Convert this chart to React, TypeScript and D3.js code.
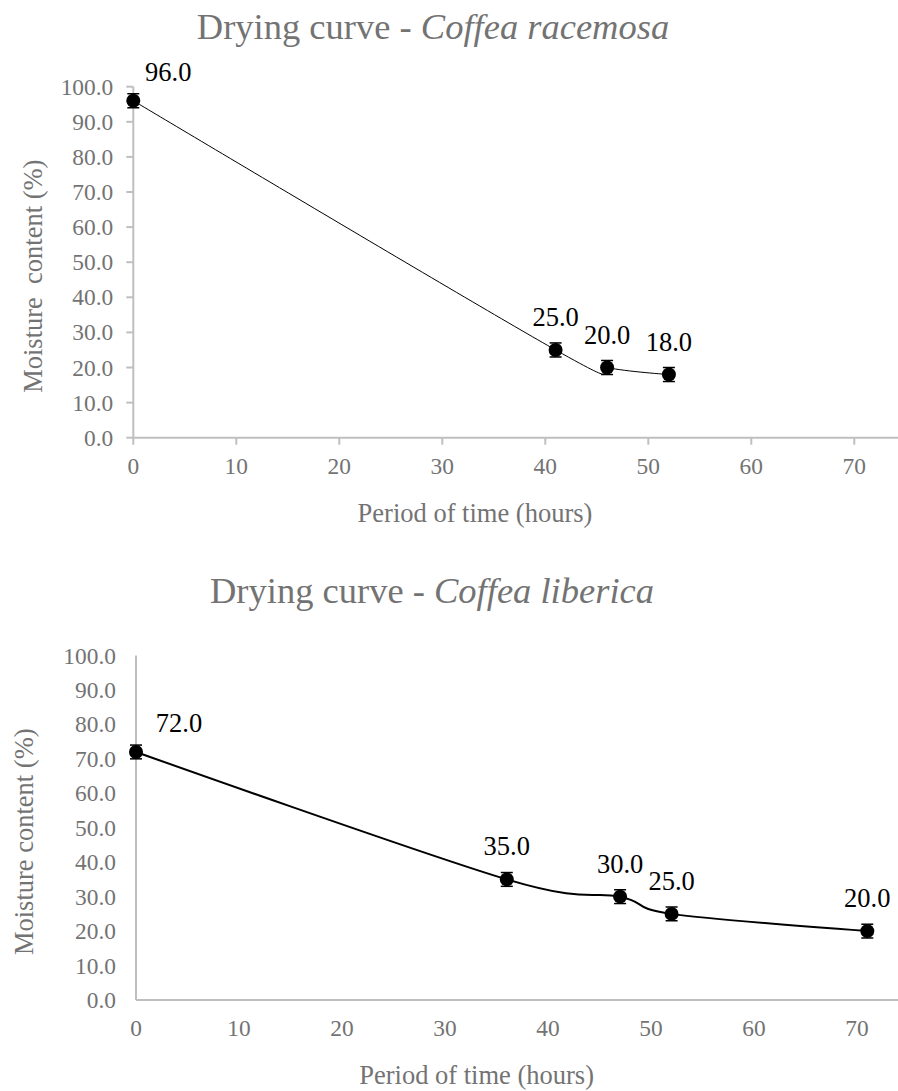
import * as d3 from "d3";

// Coffea racemosa
const racemosaHours = [0, 41, 46, 52];
const racemosaMoisture = [96, 25, 20, 18];
const racemosaError = [2, 2, 2, 2];

// Coffea liberica
const libericaHours = [0, 36, 47, 52, 71];
const libericaMoisture = [72, 35, 30, 25, 20];
const libericaError = [2, 2, 2, 2, 2];

const xTicks = [0, 10, 20, 30, 40, 50, 60, 70];
const yTicks = [0, 10, 20, 30, 40, 50, 60, 70, 80, 90, 100];

const FONT = "Liberation Serif, Times New Roman, Tinos, DejaVu Serif, serif";
const GREY_TEXT = "#737373";
const AXIS = "#bfbfbf";

type ChartProps = {
    species: string;
    hours: number[];
    moisture: number[];
    errors: number[];
    axisX: number;
    plotTop: number;
    plotBottom: number;
    titleY: number;
    titleX: number;
    yTitle: string;
    yTitleX: number;
    xTitleX: number;
    lineWidth: number;
    tickMarks: boolean;
    firstLabelDx: number;
};

function DryingChart(p: ChartProps) {
    const x = d3.scaleLinear().domain([0, 75]).range([p.axisX, p.axisX + 75 * 10.3]);
    const y = d3.scaleLinear().domain([0, 100]).range([p.plotBottom, p.plotTop]);
    const fmt = d3.format(".1f");

    const pts = p.hours.map((h, i) => ({ h, m: p.moisture[i], e: p.errors[i] }));

    // smoothed line like the spreadsheet one (uniform catmull-rom)
    const line = d3.line<{ h: number; m: number }>()
        .x(d => x(d.h))
        .y(d => y(d.m))
        .curve(d3.curveCardinal.tension(0));

    const mid = (p.plotTop + p.plotBottom) / 2 + 14;
    const txt = { fontFamily: FONT };

    return (
        <g style={txt}>
            <text x={p.titleX} y={p.titleY} textAnchor="middle" fontSize={36.5} fill={GREY_TEXT}>
                Drying curve - <tspan fontStyle="italic">{p.species}</tspan>
            </text>

            {/* axes */}
            <line x1={x(0)} x2={x(75)} y1={y(0)} y2={y(0)} stroke={AXIS} strokeWidth={2} />
            <line x1={x(0)} x2={x(0)} y1={y(0)} y2={y(100)} stroke={AXIS} strokeWidth={2} />

            {yTicks.map(t => (
                <g key={"y" + t}>
                    {p.tickMarks && <line x1={x(0) - 7} x2={x(0)} y1={y(t)} y2={y(t)} stroke={AXIS} strokeWidth={2} />}
                    <text x={x(0) - 20} y={y(t) + 8} textAnchor="end" fontSize={23.4} fill={GREY_TEXT}>
                        {fmt(t)}
                    </text>
                </g>
            ))}
            {xTicks.map(t => (
                <g key={"x" + t}>
                    {p.tickMarks && <line x1={x(t)} x2={x(t)} y1={y(0)} y2={y(0) + 7} stroke={AXIS} strokeWidth={2} />}
                    <text x={x(t)} y={y(0) + 36} textAnchor="middle" fontSize={23.4} fill={GREY_TEXT}>
                        {t}
                    </text>
                </g>
            ))}

            <text
                transform={`translate(${p.yTitleX},${mid}) rotate(-90)`}
                textAnchor="middle" fontSize={26.5} fill={GREY_TEXT}
                style={{ whiteSpace: "pre" }}
            >
                {p.yTitle}
            </text>
            <text x={p.xTitleX} y={y(0) + 84} textAnchor="middle" fontSize={26.5} fill={GREY_TEXT}>
                Period of time (hours)
            </text>

            <path d={line(pts) || ""} fill="none" stroke="#000" strokeWidth={p.lineWidth} />

            {pts.map((d, i) => (
                <g key={"p" + i}>
                    <line x1={x(d.h)} x2={x(d.h)} y1={y(d.m - d.e)} y2={y(d.m + d.e)} stroke="#000" strokeWidth={1.5} />
                    <line x1={x(d.h) - 6} x2={x(d.h) + 6} y1={y(d.m - d.e)} y2={y(d.m - d.e)} stroke="#000" strokeWidth={1.5} />
                    <line x1={x(d.h) - 6} x2={x(d.h) + 6} y1={y(d.m + d.e)} y2={y(d.m + d.e)} stroke="#000" strokeWidth={1.5} />
                    <circle cx={x(d.h)} cy={y(d.m)} r={7} fill="#000" />
                    <text
                        x={x(d.h) + (i === 0 ? p.firstLabelDx : 0)}
                        y={y(d.m) - (i === 0 ? 20 : 24)}
                        textAnchor="middle" fontSize={26.5} fill="#000"
                    >
                        {fmt(d.m)}
                    </text>
                </g>
            ))}
        </g>
    );
}

export default function App() {
    return (
        <svg width={898} height={1091} style={{ position: "absolute", left: 0, top: 0, background: "#fff" }}>
            <DryingChart
                species="Coffea racemosa"
                hours={racemosaHours}
                moisture={racemosaMoisture}
                errors={racemosaError}
                axisX={133.3}
                plotTop={86.7}
                plotBottom={437.7}
                titleX={433}
                titleY={39.3}
                yTitle={"Moisture  content (%)"}
                yTitleX={41.7}
                xTitleX={475}
                lineWidth={1}
                tickMarks={true}
                firstLabelDx={35}
            />
            <DryingChart
                species="Coffea liberica"
                hours={libericaHours}
                moisture={libericaMoisture}
                errors={libericaError}
                axisX={136}
                plotTop={655.5}
                plotBottom={1000}
                titleX={432}
                titleY={603.3}
                yTitle="Moisture content (%)"
                yTitleX={33.3}
                xTitleX={476.6}
                lineWidth={2}
                tickMarks={false}
                firstLabelDx={43}
            />
        </svg>
    );
}
